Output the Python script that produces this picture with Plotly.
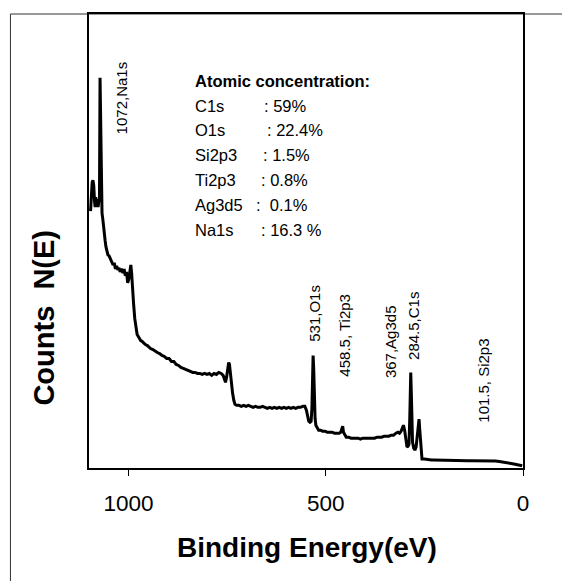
import plotly.graph_objects as go

# ---- data ----
energy_ev = [1096, 1094, 1092, 1090, 1088, 1086, 1084.5, 1083, 1081, 1079, 1077, 1075, 1073.5,
             1072, 1070.5, 1069, 1067, 1065, 1063, 1061, 1059, 1057, 1055, 1052, 1049, 1046,
             1042, 1039, 1036, 1033, 1030, 1027, 1024, 1021, 1018, 1014, 1011, 1008, 1005,
             1002, 999, 996, 994, 992, 990, 987, 984, 981, 978, 975, 972, 969, 965, 961, 957,
             952, 948, 944, 938, 932, 927, 921, 915, 909, 903, 897, 891, 885, 879, 873, 867,
             861, 855, 849, 843, 837, 831, 825, 819, 813, 807, 801, 795, 789, 783, 777, 771,
             765, 760, 756, 754, 751, 748, 746, 744, 742, 739, 736, 733, 730, 726, 720, 714,
             708, 702, 696, 690, 684, 678, 672, 666, 660, 654, 648, 642, 636, 630, 624, 618,
             612, 606, 600, 594, 588, 582, 576, 570, 564, 558, 553, 549, 546, 543, 540, 537,
             535, 533.5, 532, 530.5, 529, 527, 525, 522, 518, 513, 508, 502, 496, 490, 484,
             478, 472, 466, 462, 459, 457, 455, 452, 448, 442, 436, 430, 424, 418, 412, 406,
             400, 394, 388, 382, 376, 370, 364, 358, 352, 346, 340, 334, 328, 322, 317, 313,
             309, 306, 303, 300, 297, 294, 291, 289, 287, 285.5, 284.5, 283, 281.5, 280, 277,
             274, 271, 269, 267, 265, 263.5, 262, 260, 258, 256, 250, 244, 238, 232, 226, 220,
             214, 208, 200, 190, 180, 170, 160, 150, 140, 130, 120, 110, 100, 90, 80, 70, 60,
             50, 40, 30, 20, 10, 2]
counts_ne = [258, 275, 287, 289, 284, 268, 262, 272, 266, 270, 262, 268, 270,
             392, 330, 262, 256, 250, 240, 232, 228, 222, 219, 214, 213, 210,
             208, 204, 206, 200, 203, 199, 201, 197, 200, 196, 200, 193, 197,
             186, 190, 201, 204, 196, 180, 165, 150, 140, 134, 132, 130, 128, 127, 125, 124,
             123, 121, 120, 119, 117, 116, 115, 113, 112, 110, 110, 107, 107, 104, 103, 101,
             100, 99, 98, 97, 96, 96, 95, 95, 94, 95, 94, 95, 93, 95, 94, 96,
             95, 93, 88, 86, 92, 100, 106, 104, 95, 85, 75, 68, 64, 63, 63, 62,
             63, 62, 63, 62, 61, 62, 61, 61, 62, 61, 60, 61, 60, 61, 60, 61,
             60, 61, 60, 61, 60, 61, 60, 61, 61, 62, 62, 58, 52, 47, 46, 47,
             60, 92, 113, 100, 70, 50, 43, 40, 38, 38, 37, 37, 36, 36, 36,
             35, 35, 35, 36, 41, 42, 36, 33, 31, 31, 30, 30, 30, 30, 29, 30,
             30, 30, 30, 30, 30, 31, 31, 31, 32, 32, 32, 33, 33, 35, 36, 35,
             37, 40, 43, 38, 28, 21, 22, 24, 50, 85, 96, 75, 45, 26, 20,
             18, 21, 30, 40, 46, 49, 40, 25, 12, 9, 9, 8.5, 8.5, 8, 8, 8,
             7.5, 8, 7.5, 7.5, 7.5, 7.5, 7.5, 7.3, 7.3, 7.2, 7.2, 7, 7.2, 7, 7.3, 7, 6.5,
             6, 5.2, 4.5, 3.7, 3, 2.2]

x_tick_values = [0, 500, 1000]
x_tick_labels = ["0", "500", "1000"]

peak_labels = ["1072,Na1s", "531,O1s", "458.5, Ti2p3", "367,Ag3d5", "284.5,C1s", "101.5, Si2p3"]
peak_label_x = [1017, 527, 451, 337, 278, 100.6]
peak_label_y = [372, 155, 133, 126.5, 143, 88]

conc_title = "Atomic concentration:"
conc_elements = ["C1s", "O1s", "Si2p3", "Ti2p3", "Ag3d5", "Na1s"]
conc_values = [": 59%", ": 22.4%", ": 1.5%", ": 0.8%", ":  0.1%", ": 16.3 %"]

FONT = "Arial, 'Liberation Sans', sans-serif"

fig = go.Figure()
fig.add_trace(go.Scatter(
    x=energy_ev, y=counts_ne, mode="lines",
    line=dict(color="black", width=3),
    hoverinfo="skip", showlegend=False,
))

annotations = []
for txt, xv, yv in zip(peak_labels, peak_label_x, peak_label_y):
    annotations.append(dict(
        x=xv, y=yv, xref="x", yref="y", text=txt, showarrow=False,
        textangle=-90, font=dict(family=FONT, size=15, color="black"),
        xanchor="center", yanchor="middle",
    ))

# concentration block (top y in data units, line spacing in data units)
conc_top = 389
conc_step = 25
conc_name_x = 836
conc_colon_x = [662, 654, 664, 669, 682, 669]
annotations.append(dict(
    x=conc_name_x, y=conc_top, xref="x", yref="y", text="<b>" + conc_title + "</b>",
    showarrow=False, xanchor="left", yanchor="middle",
    font=dict(family=FONT, size=16.5, color="black"),
))
for i, (el, val) in enumerate(zip(conc_elements, conc_values)):
    yv = conc_top - conc_step * (i + 1)
    annotations.append(dict(
        x=conc_name_x, y=yv, xref="x", yref="y", text=el, showarrow=False,
        xanchor="left", yanchor="middle", font=dict(family=FONT, size=16.5, color="black"),
    ))
    annotations.append(dict(
        x=conc_colon_x[i], y=yv, xref="x", yref="y", text=val.replace(" ", "&nbsp;"),
        showarrow=False, xanchor="left", yanchor="middle",
        font=dict(family=FONT, size=16.5, color="black"),
    ))

# axis titles
annotations.append(dict(
    x=0.502, y=-0.175, xref="paper", yref="paper", text="<b>Binding Energy(eV)</b>",
    showarrow=False, xanchor="center", yanchor="middle",
    font=dict(family=FONT, size=28, color="black"),
))
annotations.append(dict(
    x=-0.104, y=0.331, xref="paper", yref="paper", text="<b>Counts&nbsp;&nbsp;N(E)</b>",
    showarrow=False, xanchor="center", yanchor="middle", textangle=-90,
    font=dict(family=FONT, size=29, color="black"),
))

shapes = [dict(
    type="rect", xref="paper", yref="paper",
    x0=-0.181, x1=2.0, y0=-2.0, y1=1.0,
    line=dict(color="#333333", width=1), fillcolor="rgba(0,0,0,0)", layer="below",
)]

fig.update_layout(
    width=562, height=581,
    margin=dict(l=89, r=39, t=12, b=113),
    paper_bgcolor="white", plot_bgcolor="white",
    showlegend=False,
    annotations=annotations,
    shapes=shapes,
    xaxis=dict(
        range=[1100, 0], tickvals=x_tick_values, ticktext=x_tick_labels,
        ticks="outside", ticklen=6, tickwidth=1, tickcolor="black",
        showline=True, linecolor="black", linewidth=2, mirror=True,
        showgrid=False, zeroline=False,
        tickfont=dict(family=FONT, size=22.5, color="black"),
        ticklabelstandoff=8,
    ),
    yaxis=dict(
        range=[0, 456], showticklabels=False, ticks="",
        showline=True, linecolor="black", linewidth=2, mirror=True,
        showgrid=False, zeroline=False,
    ),
)

fig.write_html("out.html")
